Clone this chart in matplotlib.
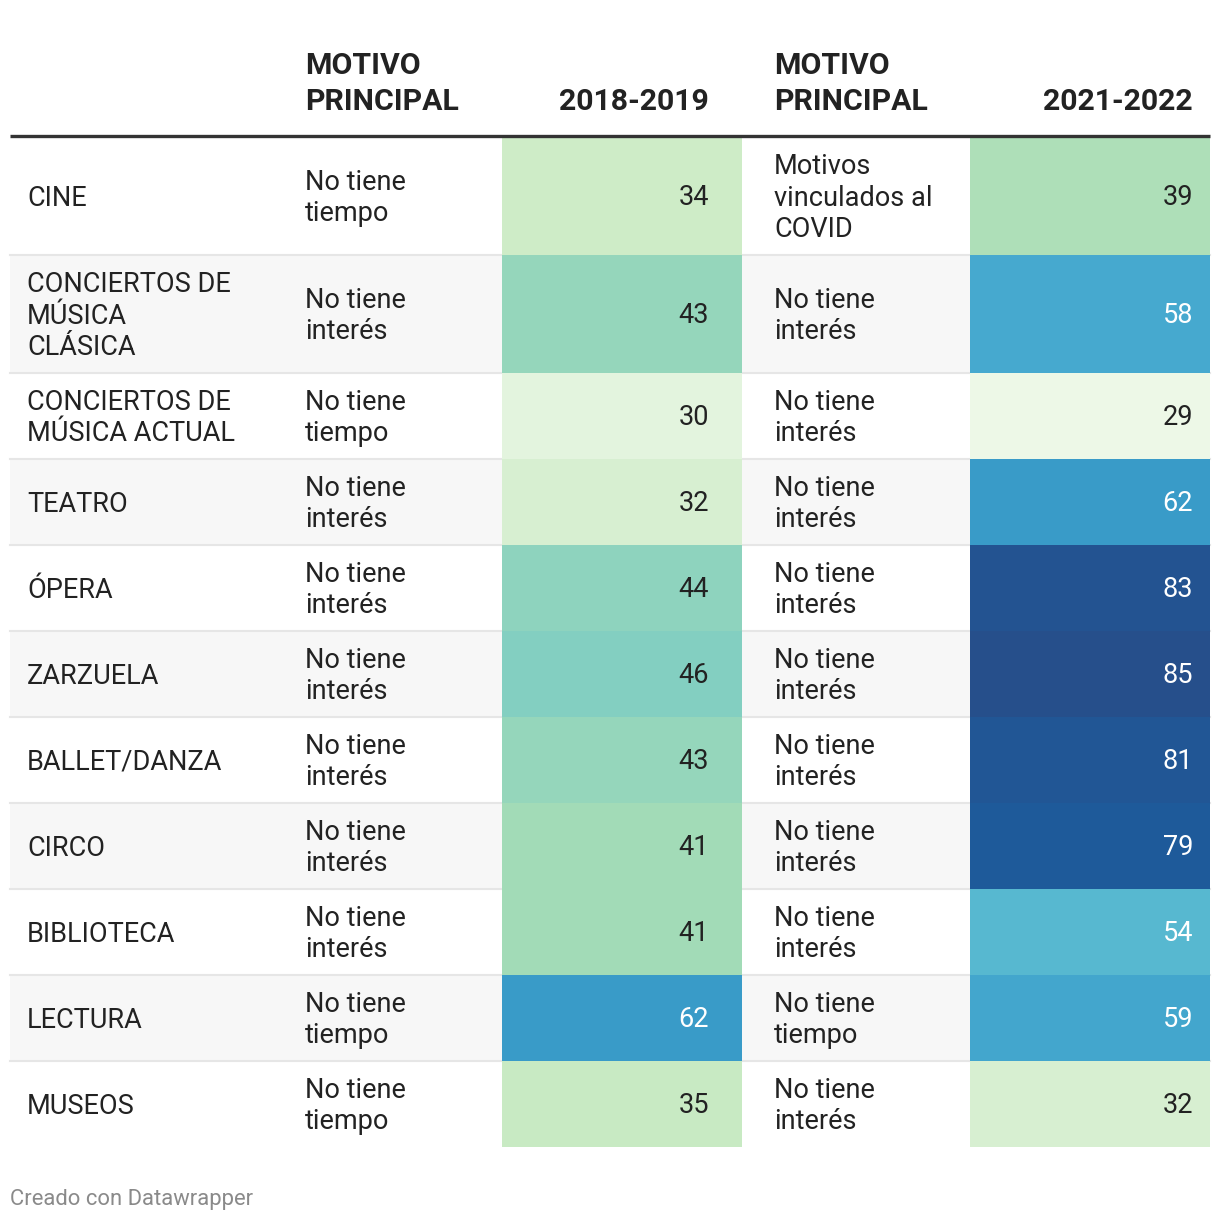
import matplotlib
matplotlib.use('Agg')
from matplotlib import pyplot as plt
from matplotlib.patches import Rectangle
from matplotlib import colors as mcolors
import numpy as np

plt.rcParams['font.family'] = ['Roboto', 'DejaVu Sans']

# data
actividades = ["CINE", "CONCIERTOS DE\nMÚSICA\nCLÁSICA", "CONCIERTOS DE\nMÚSICA ACTUAL",
               "TEATRO", "ÓPERA", "ZARZUELA", "BALLET/DANZA", "CIRCO",
               "BIBLIOTECA", "LECTURA", "MUSEOS"]
motivo_2018 = ["No tiene\ntiempo", "No tiene\ninterés", "No tiene\ntiempo", "No tiene\ninterés",
               "No tiene\ninterés", "No tiene\ninterés", "No tiene\ninterés", "No tiene\ninterés",
               "No tiene\ninterés", "No tiene\ntiempo", "No tiene\ntiempo"]
valor_2018 = [34, 43, 30, 32, 44, 46, 43, 41, 41, 62, 35]
motivo_2021 = ["Motivos\nvinculados al\nCOVID", "No tiene\ninterés", "No tiene\ninterés",
               "No tiene\ninterés", "No tiene\ninterés", "No tiene\ninterés", "No tiene\ninterés",
               "No tiene\ninterés", "No tiene\ninterés", "No tiene\ntiempo", "No tiene\ninterés"]
valor_2021 = [39, 58, 29, 62, 83, 85, 81, 79, 54, 59, 32]
headers = ["MOTIVO\nPRINCIPAL", "2018-2019", "MOTIVO\nPRINCIPAL", "2021-2022"]

W, H = 1220, 1222
fig = plt.figure(figsize=(W / 100, H / 100), dpi=100)
ax = fig.add_axes([0, 0, 1, 1])
ax.set_xlim(0, W)
ax.set_ylim(H, 0)
ax.axis('off')

# GnBu-like palette, softer dark end like datawrapper
cmap = mcolors.LinearSegmentedColormap.from_list(
    'dw_gnbu', ['#f7fcf0', '#e0f3db', '#ccebc5', '#a8ddb5', '#7bccc4',
                '#4eb3d3', '#2f8fc3', '#1a60a2', '#2a4a85'])
norm = mcolors.PowerNorm(gamma=0.6, vmin=28.5, vmax=88)

left, right = 10, 1210
col_val1 = (502, 742)
col_val2 = (970, 1210)
x_label, x_mot1, x_mot2 = 27, 305, 774
x_num1, x_num2 = 709, 1193

body_fs = 19.5
hdr_fs = 21.8
txt_col = '#222222'

# headers
hdr_y = 110
for x, txt, ha in [(x_mot1, headers[0], 'left'), (x_num1, headers[1], 'right'),
                   (x_mot2, headers[2], 'left'), (x_num2, headers[3], 'right')]:
    ax.text(x, hdr_y, txt, fontsize=hdr_fs, fontweight='bold', color=txt_col,
            ha=ha, va='baseline', linespacing=1.37, multialignment='left')

# row heights from the number of text lines
lines = [max(a.count('\n'), b.count('\n'), c.count('\n')) + 1
         for a, b, c in zip(actividades, motivo_2018, motivo_2021)]
heights = [118 if n == 3 else 86 for n in lines]
top = 137
for i in range(len(actividades)):
    h = heights[i]
    bg = '#f7f7f7' if i % 2 == 1 else 'white'
    ax.add_patch(Rectangle((left, top), right - left, h, facecolor=bg, edgecolor='none', zorder=1))
    if i > 0:
        ax.plot([left, right], [top, top], color='#e6e6e6', lw=1.5, zorder=2)
    for (x0, x1), v, xn in [(col_val1, valor_2018[i], x_num1), (col_val2, valor_2021[i], x_num2)]:
        ax.add_patch(Rectangle((x0, top), x1 - x0, h, facecolor=cmap(norm(v)),
                               edgecolor='none', zorder=3))
        ax.text(xn, top + h / 2 + 1.5, str(v), fontsize=body_fs, ha='right', va='center',
                color='white' if v >= 50 else txt_col, zorder=4)
    cy = top + h / 2 + 2
    for x, txt in [(x_label, actividades[i]), (x_mot1, motivo_2018[i]), (x_mot2, motivo_2021[i])]:
        ax.text(x, cy, txt, fontsize=body_fs, ha='left', va='center',
                color=txt_col, linespacing=1.2, zorder=4)
    top += h

# thick header rule
ax.plot([left, right], [135.5, 135.5], color='#333333', lw=2.4, zorder=5, solid_capstyle='butt')

ax.text(10, 1199, "Creado con Datawrapper", fontsize=15.8, color='#8a8a8a',
        ha='left', va='center')

fig.savefig('out.png', dpi=100, facecolor='white')
